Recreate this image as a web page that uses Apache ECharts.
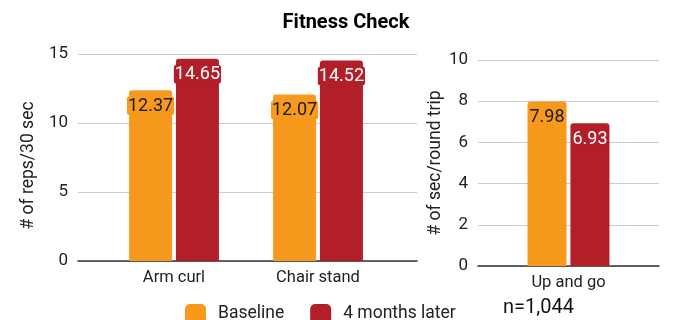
<!DOCTYPE html>
<html><head><meta charset="utf-8">
<script src="https://cdn.jsdelivr.net/npm/echarts@6/dist/echarts.min.js"></script>
<style>html,body{margin:0;padding:0;background:#fff}#c{width:692px;height:320px}</style>
</head><body><div id="c"></div>
<script>
const title = 'Fitness Check';
const seriesNames = ['Baseline', '4 months later'];
const categoriesLeft = ['Arm curl', 'Chair stand'];
const baselineLeft = [12.37, 12.07];
const laterLeft = [14.65, 14.52];
const categoriesRight = ['Up and go'];
const baselineRight = [7.98];
const laterRight = [6.93];
const leftAxisName = '# of reps/30 sec';
const rightAxisName = '# of sec/round trip';
const sampleNote = 'n=1,044';

const ORANGE = '#f7991c', RED = '#b21f28';
const FONT = 'Roboto';
function lbl(color, bg) {
  return { show: true, position: 'insideTop', distance: 6, fontFamily: FONT, fontSize: 18,
    color: color, backgroundColor: bg, borderRadius: 3, padding: [1, 1, 0, 1],
    formatter: p => p.value.toFixed(2) };
}
const chart = echarts.init(document.getElementById('c'), null, { renderer: 'canvas' });
chart.setOption({
  animation: false,
  textStyle: { fontFamily: FONT },
  title: [
    { text: title, left: 'center', top: 8, textStyle: { fontFamily: FONT, fontWeight: 'bold', fontSize: 20, color: '#000' } },
    { text: sampleNote, left: 498, top: 293, textStyle: { fontFamily: FONT, fontWeight: 'normal', fontSize: 20, color: '#111' } }
  ],
  legend: {
    data: seriesNames, left: 180, top: 299, itemWidth: 21, itemHeight: 20, itemGap: 26, icon: 'roundRect',
    textStyle: { fontFamily: FONT, fontSize: 17.5, color: '#222', padding: [0, 0, 0, 7] }
  },
  grid: [
    { left: 78, right: 275, top: 54, bottom: 59 },
    { left: 102, width: 288, top: 54, bottom: 59 },
    { left: 478, right: 33, top: 60, bottom: 54 }
  ],
  xAxis: [
    { gridIndex: 0, type: 'value', min: 0, max: 1, axisLabel: { show: false }, axisTick: { show: false }, splitLine: { show: false },
      axisLine: { show: true, lineStyle: { color: '#333', width: 1.5 } } },
    { gridIndex: 1, type: 'category', data: categoriesLeft, axisLine: { show: false }, axisTick: { show: false },
      axisLabel: { fontFamily: FONT, fontSize: 16.5, color: '#222', margin: 8 } },
    { gridIndex: 2, type: 'category', data: categoriesRight, axisTick: { show: false },
      axisLine: { show: true, lineStyle: { color: '#333', width: 1.5 } },
      axisLabel: { fontFamily: FONT, fontSize: 16.5, color: '#222', margin: 8 } }
  ],
  yAxis: [
    { gridIndex: 0, type: 'value', min: 0, max: 15, interval: 5, name: leftAxisName, nameLocation: 'middle', nameGap: 40,
      nameTextStyle: { fontFamily: FONT, fontSize: 17.5, color: '#222', padding: [0, 16, 0, 0] },
      axisLine: { show: false }, axisTick: { show: false },
      axisLabel: { fontFamily: FONT, fontSize: 17, color: '#222', margin: 10 },
      splitLine: { lineStyle: { color: '#cccccc', width: 1 } } },
    { gridIndex: 1, type: 'value', min: 0, max: 15, interval: 5, show: false, splitLine: { show: false } },
    { gridIndex: 2, type: 'value', min: 0, max: 10, interval: 2, name: rightAxisName, nameLocation: 'middle', nameGap: 32,
      nameTextStyle: { fontFamily: FONT, fontSize: 17.5, color: '#222' },
      axisLine: { show: false }, axisTick: { show: false },
      axisLabel: { fontFamily: FONT, fontSize: 17, color: '#222', margin: 10 },
      splitLine: { lineStyle: { color: '#cccccc', width: 1 } } }
  ],
  series: [
    { name: seriesNames[0], type: 'bar', xAxisIndex: 1, yAxisIndex: 1, data: baselineLeft, barWidth: 43, barGap: '9%',
      itemStyle: { color: ORANGE, borderRadius: [3, 3, 0, 0] }, label: lbl('#1a1a1a', ORANGE) },
    { name: seriesNames[1], type: 'bar', xAxisIndex: 1, yAxisIndex: 1, data: laterLeft, barWidth: 43, barGap: '9%',
      itemStyle: { color: RED, borderRadius: [3, 3, 0, 0] }, label: lbl('#ffffff', RED) },
    { name: seriesNames[0], type: 'bar', xAxisIndex: 2, yAxisIndex: 2, data: baselineRight, barWidth: 39, barGap: '10%',
      itemStyle: { color: ORANGE, borderRadius: [3, 3, 0, 0] }, label: lbl('#1a1a1a', ORANGE) },
    { name: seriesNames[1], type: 'bar', xAxisIndex: 2, yAxisIndex: 2, data: laterRight, barWidth: 39, barGap: '10%',
      itemStyle: { color: RED, borderRadius: [3, 3, 0, 0] }, label: lbl('#ffffff', RED) }
  ]
});
</script></body></html>
